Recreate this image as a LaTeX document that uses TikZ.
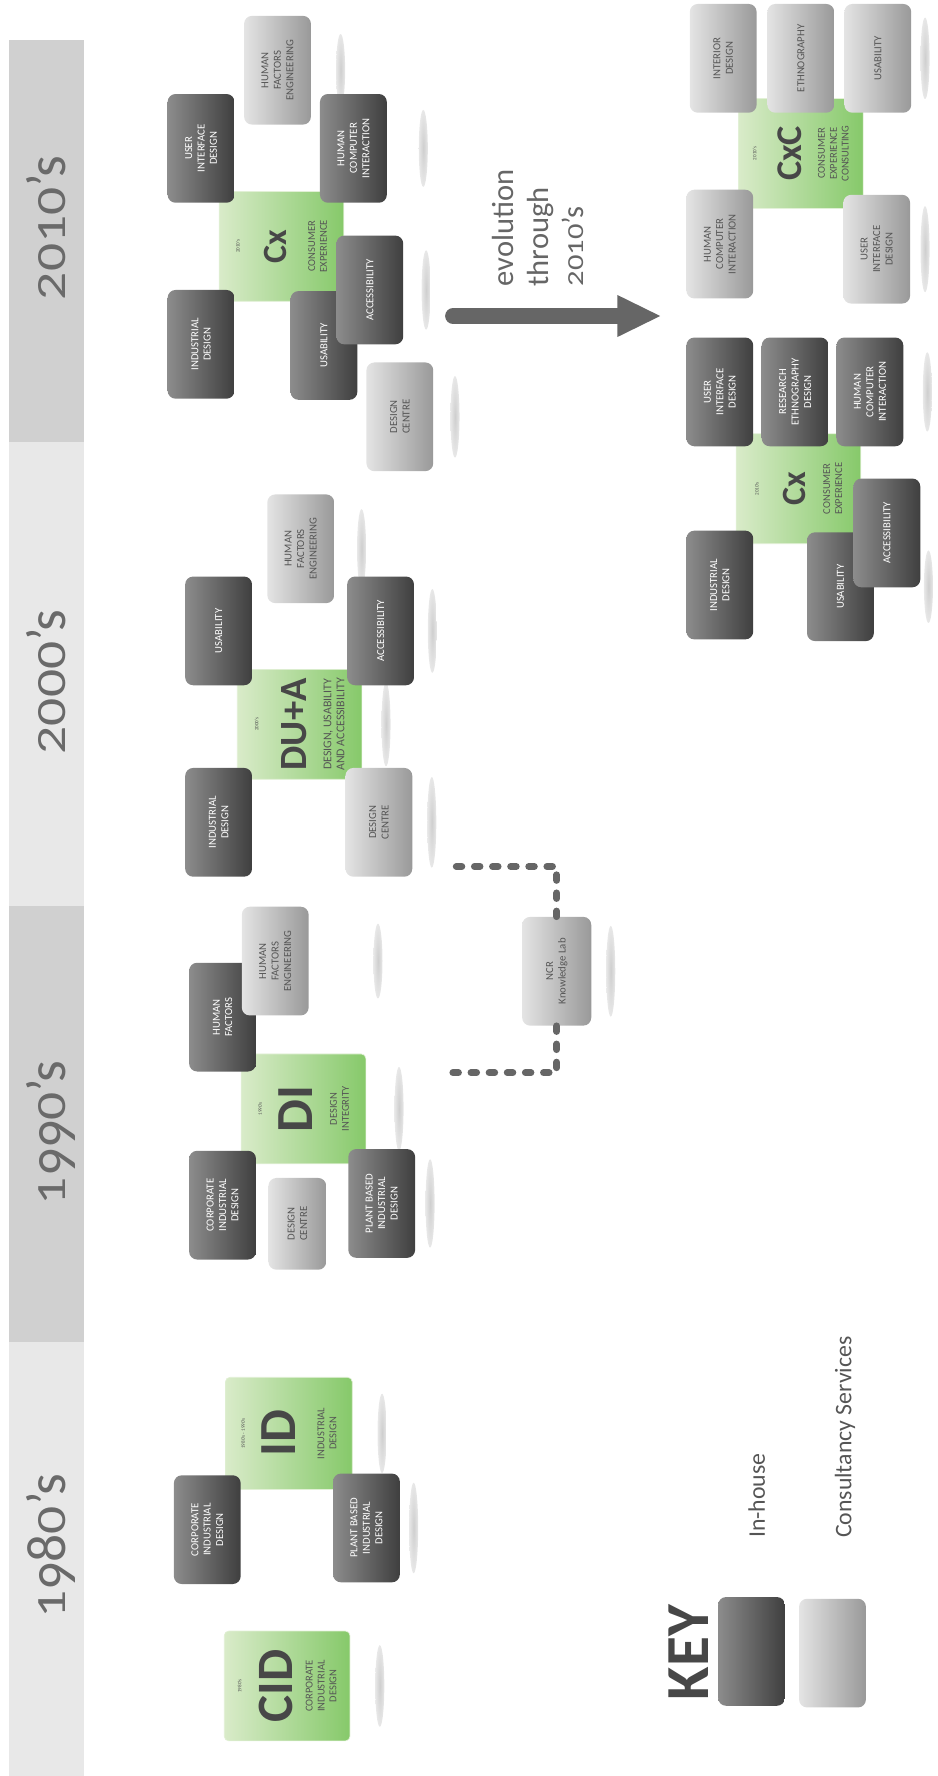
\documentclass[tikz,border=0pt]{standalone}
\usepackage{fontspec}
\usepackage{graphicx}
\setmainfont{Carlito}
\usetikzlibrary{arrows.meta,calc}

\definecolor{banddark}{HTML}{D0D0D0}
\definecolor{bandlight}{HTML}{E8E8E8}
\definecolor{decadegray}{HTML}{6A6A6A}
\definecolor{inktext}{HTML}{555555}
\definecolor{inkbig}{HTML}{474747}
\definecolor{darktop}{HTML}{8C8C8C}
\definecolor{darkbot}{HTML}{3F3F3F}
\definecolor{lighttop}{HTML}{E4E4E4}
\definecolor{lightbot}{HTML}{999999}
\definecolor{greentop}{HTML}{D9EBC9}
\definecolor{greenbot}{HTML}{86C96A}
\definecolor{greenedge}{HTML}{E2F0D6}
\definecolor{linkgray}{HTML}{666666}

\pgfdeclareradialshading{glint}{\pgfpoint{0bp}{0bp}}{color(0bp)=(black!19); color(20bp)=(black!11); color(50bp)=(white)}
\pgfdeclarelayer{back}
\pgfsetlayers{back,main}

% reflection to the right of a box
\newcommand{\glint}[3]{\shade[shading=glint] ($(#1.south)+(#2,0)$) ellipse (4 and #3);}
\newcommand{\hubyear}[1]{{\fontsize{4.5}{5}\selectfont #1}}
\newcommand{\hubname}[2]{{\fontsize{#1}{#1}\selectfont\bfseries\color{inkbig}#2}}
% old-style figures by hand (the font has none)
\newcommand{\lowfig}[1]{\scalebox{1}[0.75]{#1}}
\newcommand{\dropfig}[1]{\raisebox{-0.19em}{#1}}

\begin{document}
\begin{tikzpicture}[x=1pt, y=-1pt,
  box/.style={rotate=90, rounded corners=7pt, minimum width=96pt, minimum height=59pt, inner sep=1pt, align=center, font=\fontsize{9.5}{11}\selectfont},
  % the shading stays in page axes, so the gradient runs left to right
  inhouse/.style={box, left color=darktop, right color=darkbot, text=white},
  consult/.style={box, left color=lighttop, right color=lightbot, text=inktext},
  hub/.style={rotate=90, rounded corners=4pt, minimum width=97pt, minimum height=110pt, inner sep=0pt, align=center, left color=greentop, right color=greenbot, draw=greenedge, line width=0.6pt, text=inktext, font=\fontsize{9.3}{10.5}\selectfont},
  decade/.style={rotate=90, anchor=base, inner sep=0pt, text=decadegray, font=\fontsize{49}{49}\selectfont},
  keylabel/.style={rotate=90, anchor=west, inner sep=0pt, text=inktext, font=\fontsize{21}{21}\selectfont},
  dotlink/.style={draw=linkgray, line width=6pt, line cap=round, line join=round, dash pattern=on 5pt off 11pt},
  evolve/.style={draw=linkgray, line width=14pt, line cap=round, -{Triangle[length=39pt, width=34pt]}},
]
\useasboundingbox (0,0) rectangle (828,1568);

% decade bands
\fill[banddark] (8,35) rectangle (74,390);
\fill[bandlight] (8,390) rectangle (74,800);
\fill[banddark] (8,800) rectangle (74,1185);
\fill[bandlight] (8,1185) rectangle (74,1568);
\node[decade] (d2010) at (57.5,201) {\lowfig{2}\lowfig{0}\lowfig{1}\lowfig{0}'s};
\node[decade] (d2000) at (57.5,602) {\lowfig{2}\lowfig{0}\lowfig{0}\lowfig{0}'s};
\node[decade] (d1990) at (57.5,1000) {\lowfig{1}\dropfig{9}\dropfig{9}\lowfig{0}'s};
\node[decade] (d1980) at (57.5,1365) {\lowfig{1}\dropfig{9}8\lowfig{0}'s};

% 2010's
\node[hub] (cx4) at (248.5,217.5) {\hubyear{2010's}\\[21pt]\hubname{30}{Cx}\\[14.5pt]CONSUMER\\EXPERIENCE};
\node[consult] (hfe4) at (245,62) {HUMAN\\FACTORS\\ENGINEERING};
\node[inhouse] (uid4) at (177.5,131) {USER\\INTERFACE\\DESIGN};
\node[inhouse] (hci4) at (312,131) {HUMAN\\COMPUTER\\INTERACTION};
\node[inhouse] (ind4) at (177.5,304) {INDUSTRIAL\\DESIGN};
\node[inhouse] (usa4) at (286,305) {USABILITY};
\node[inhouse] (acc4) at (326.5,256) {ACCESSIBILITY};
\node[consult] (dc4) at (353,368) {DESIGN\\CENTRE};

% evolution through the 2010's
\node[rotate=90, anchor=north west, inner sep=0pt, align=left, text=linkgray, font=\fontsize{27}{31}\selectfont] (evo) at (434,253) {evolution\\through\\\lowfig{2}\lowfig{0}\lowfig{1}\lowfig{0}'s};
\coordinate (evo-from) at (400,279);
\coordinate (evo-to) at (584,279);
\draw[evolve] (evo-from) -- (evo-to);

% consultancy (CxC)
\node[hub] (cxc5) at (707,135.5) {\hubyear{2010's}\\[17.5pt]\hubname{32}{CxC}\\[10.5pt]CONSUMER\\EXPERIENCE\\CONSULTING};
\node[consult] (int5) at (638.5,51.5) {INTERIOR\\DESIGN};
\node[consult] (eth5) at (707,51.5) {ETHNOGRAPHY};
\node[consult] (usa5) at (775,51.5) {USABILITY};
\node[consult] (hci5) at (635.5,215.5) {HUMAN\\COMPUTER\\INTERACTION};
\node[consult] (uid5) at (774,220) {USER\\INTERFACE\\DESIGN};

% in-house (Cx)
\node[hub] (cx6) at (705,431.5) {\hubyear{2010's}\\[20.5pt]\hubname{30}{Cx}\\[11.5pt]CONSUMER\\EXPERIENCE};
\node[inhouse] (uid6) at (635.5,346) {USER\\INTERFACE\\DESIGN};
\node[inhouse] (red6) at (702,346) {RESEARCH\\ETHNOGRAPHY\\DESIGN};
\node[inhouse] (hci6) at (768,346) {HUMAN\\COMPUTER\\INTERACTION};
\node[inhouse] (ind6) at (635.5,516.5) {INDUSTRIAL\\DESIGN};
\node[inhouse] (usa6) at (742,518) {USABILITY};
\node[inhouse] (acc6) at (783,470.5) {ACCESSIBILITY};

% 2000's
\node[hub, font=\fontsize{10.5}{11.5}\selectfont] (dua3) at (264.5,639.5) {\hubyear{2000's}\\[19.5pt]\hubname{34}{DU+A}\\[10.5pt]DESIGN, USABILITY\\AND ACCESSIBILITY};
\node[inhouse] (usa3) at (193,557) {USABILITY};
\node[consult] (hfe3) at (265.5,484.5) {HUMAN\\FACTORS\\ENGINEERING};
\node[inhouse] (acc3) at (336,557) {ACCESSIBILITY};
\node[inhouse] (ind3) at (193,726) {INDUSTRIAL\\DESIGN};
\node[consult] (dc3) at (334.5,726) {DESIGN\\CENTRE};

% 1990's
\node[hub] (di2) at (268,979) {\hubyear{1990's}\\[14pt]\hubname{46}{DI}\\[11pt]DESIGN\\INTEGRITY};
\node[inhouse] (hf2) at (196.5,898) {HUMAN\\FACTORS};
\node[consult] (hfe2) at (243,848.5) {HUMAN\\FACTORS\\ENGINEERING};
\node[inhouse] (cid2) at (196.5,1064) {CORPORATE\\INDUSTRIAL\\DESIGN};
\node[consult, minimum width=81pt, minimum height=51pt] (dc2) at (262.5,1080.5) {DESIGN\\CENTRE};
\node[inhouse] (pid2) at (337,1062.5) {PLANT BASED\\INDUSTRIAL\\DESIGN};
\node[consult, minimum height=61pt] (ncr) at (491.5,857.5) {NCR\\Knowledge Lab};

% link to the NCR lab
\coordinate (link-up) at (397,765);
\coordinate (link-down) at (395,947);
\draw[dotlink] (ncr.east) |- (link-up);
\draw[dotlink] (ncr.west) |- (link-down);

% 1980's
\node[hub, minimum width=99pt, minimum height=112pt] (id1) at (255,1265.5) {\hubyear{1980's - 1990's}\\[14pt]\hubname{46}{ID}\\[15pt]INDUSTRIAL\\DESIGN};
\node[inhouse] (cid1) at (183,1350.5) {CORPORATE\\INDUSTRIAL\\DESIGN};
\node[inhouse] (pid1) at (323.5,1349) {PLANT BASED\\INDUSTRIAL\\DESIGN};
\node[hub, minimum height=111pt] (cid0) at (253.5,1488.5) {\hubyear{1980's}\\[14.5pt]\hubname{45}{CID}\\[7.5pt]CORPORATE\\INDUSTRIAL\\DESIGN};

% key
\node[rotate=90, inner sep=0pt, text=inkbig, font=\bfseries\fontsize{54}{54}\selectfont] (keyword) at (608,1459) {KEY};
\node[inhouse] (keyin) at (663.5,1458) {};
\node[consult] (keycon) at (735,1459.5) {};
\node[keylabel] (inlbl) at (668,1358) {In-house};
\node[keylabel] (conlbl) at (746,1358) {Consultancy Services};

% reflections
\begin{pgfonlayer}{back}
\glint{hfe4}{26}{32} \glint{hci4}{32}{34} \glint{acc4}{20}{35} \glint{dc4}{19}{36}
\glint{usa5}{12}{36} \glint{uid5}{13}{38}
\glint{hci6}{21}{35} \glint{usa6}{48}{32}
\glint{hfe3}{24}{35} \glint{acc3}{16}{37} \glint{dua3}{21}{37} \glint{dc3}{17}{40}
\glint{hfe2}{61}{33} \glint{di2}{29}{37} \glint{pid2}{13}{39} \glint{ncr}{17}{40}
\glint{id1}{26}{35} \glint{pid1}{12}{40} \glint{cid0}{26}{36}
\end{pgfonlayer}

\end{tikzpicture}
\end{document}
